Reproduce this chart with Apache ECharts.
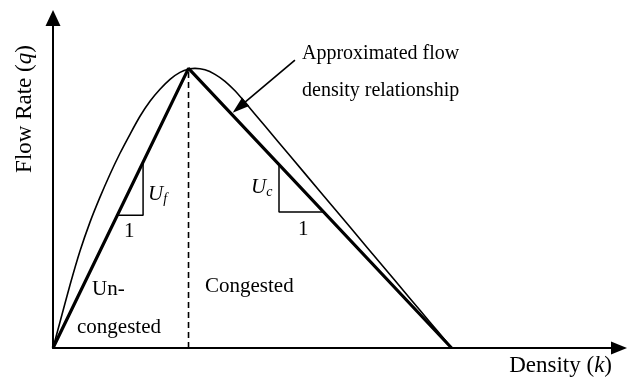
<!DOCTYPE html>
<html>
<head>
<meta charset="utf-8">
<script src="https://cdn.jsdelivr.net/npm/echarts@6/dist/echarts.min.js"></script>
<style>
html,body{margin:0;padding:0;background:#fff;}
#chart{width:629px;height:380px;}
</style>
</head>
<body>
<div id="chart"></div>
<script>
// Flow-density curve (thin) (density k, flow q)
const curveK = [0, 1.756, 4.265, 6.774, 9.283, 11.791, 14.3, 16.809, 19.318, 21.827, 24.335, 26.844, 29.353, 31.862, 34.37, 35.625, 38.134, 40.642, 43.151, 45.66, 48.169, 53.186, 59.458, 66.985, 74.511, 82.037, 89.564, 94.581, 98.344, 100];
const curveQ = [0, 9.286, 22.5, 34.643, 45.0, 53.929, 62.143, 69.643, 76.429, 82.857, 88.214, 92.5, 96.071, 98.571, 99.821, 100, 99.464, 97.857, 95.357, 91.964, 87.857, 79.36, 68.73, 55.98, 43.23, 30.48, 17.73, 9.23, 2.86, 0];
// Triangular approximation
const triK = [0, 34, 100];
const triQ = [0, 100, 0];
// Critical density divider
const divK = [34, 34];
const divQ = [0, 100];
// Slope triangles
const ufK = [16.15, 22.6, 22.6];
const ufQ = [47.5, 47.5, 66.5];
const ucK = [56.7, 56.7, 67.9];
const ucQ = [65.6, 48.6, 48.6];
// Annotation arrow (from label to curve)
const arrowK = [60.7, 46.7];
const arrowQ = [102.9, 86.1];

const zip = (a, b) => a.map((v, i) => [v, b[i]]);
const serif = '"Liberation Serif", "Times New Roman", serif';

const chart = echarts.init(document.getElementById('chart'), null, {renderer: 'canvas'});
const option = {
  animation: false,
  backgroundColor: '#fff',
  grid: {left: 53, right: 10, top: 18, bottom: 32, containLabel: false, outerBoundsMode: 'none'},
  xAxis: {
    type: 'value', min: 0, max: 142,
    axisLine: {show: true, onZero: false, symbol: ['none', 'triangle'], symbolSize: [13, 16], lineStyle: {color: '#000', width: 2}},
    axisTick: {show: false}, axisLabel: {show: false}, splitLine: {show: false},
    name: '{n|Density (}{i|k}{n|)}',
    nameLocation: 'end', nameGap: -7,
    nameTextStyle: {align: 'right', verticalAlign: 'top', padding: [6, 0, 0, 0],
      rich: {n: {fontFamily: serif, fontSize: 23, color: '#000'}, i: {fontFamily: serif, fontSize: 23, fontStyle: 'italic', color: '#000'}}}
  },
  yAxis: {
    type: 'value', min: 0, max: 118,
    axisLine: {show: true, onZero: false, symbol: ['none', 'triangle'], symbolSize: [15, 16], lineStyle: {color: '#000', width: 2}},
    axisTick: {show: false}, axisLabel: {show: false}, splitLine: {show: false},
    name: '{n|Flow Rate (}{i|q}{n|)}',
    nameLocation: 'middle', nameGap: 17, nameRotate: 90,
    nameTextStyle: {padding: [0, 0, 0, 148],
      rich: {n: {fontFamily: serif, fontSize: 23, color: '#000'}, i: {fontFamily: serif, fontSize: 23, fontStyle: 'italic', color: '#000'}}}
  },
  series: [
    {type: 'line', name: 'curve', data: zip(curveK, curveQ), smooth: 0.25, showSymbol: false,
      lineStyle: {color: '#000', width: 1.6}},
    {type: 'line', name: 'triangle', data: zip(triK, triQ), showSymbol: false,
      lineStyle: {color: '#000', width: 3.2}},
    {type: 'line', name: 'divider', data: zip(divK, divQ), showSymbol: false,
      lineStyle: {color: '#000', width: 1.6, type: [6, 4]}},
    {type: 'line', name: 'uf', data: zip(ufK, ufQ), showSymbol: false,
      lineStyle: {color: '#000', width: 1.5}},
    {type: 'line', name: 'uc', data: zip(ucK, ucQ), showSymbol: false,
      lineStyle: {color: '#000', width: 1.5}},
    {type: 'line', name: 'arrow', data: [], showSymbol: false,
      markLine: {silent: true, symbol: ['none', 'triangle'], symbolSize: [11, 17],
        label: {show: false},
        lineStyle: {color: '#000', width: 1.6, type: 'solid'},
        data: [[{coord: [arrowK[0], arrowQ[0]]}, {coord: [arrowK[1], arrowQ[1]]}]]}}
  ],
  graphic: [
    {type: 'text', left: 302, top: 44, style: {text: 'Approximated flow', font: '20px ' + serif, fill: '#000'}},
    {type: 'text', left: 302, top: 81, style: {text: 'density relationship', font: '20px ' + serif, fill: '#000'}},
    {type: 'text', left: 92, top: 279, style: {text: 'Un-', font: '21px ' + serif, fill: '#000'}},
    {type: 'text', left: 77, top: 317, style: {text: 'congested', font: '21px ' + serif, fill: '#000'}},
    {type: 'text', left: 205, top: 276, style: {text: 'Congested', font: '21px ' + serif, fill: '#000'}},
    {type: 'text', left: 148, top: 184, style: {text: '{u|U}{s|f}', rich: {u: {fontFamily: serif, fontSize: 21, fontStyle: 'italic', color: '#000'}, s: {fontFamily: serif, fontSize: 14, fontStyle: 'italic', color: '#000', verticalAlign: 'bottom', padding: [10, 0, 0, 0]}}}},
    {type: 'text', left: 124, top: 221, style: {text: '1', font: '21px ' + serif, fill: '#000'}},
    {type: 'text', left: 251, top: 177, style: {text: '{u|U}{s|c}', rich: {u: {fontFamily: serif, fontSize: 21, fontStyle: 'italic', color: '#000'}, s: {fontFamily: serif, fontSize: 14, fontStyle: 'italic', color: '#000', verticalAlign: 'bottom', padding: [10, 0, 0, 0]}}}},
    {type: 'text', left: 298, top: 219, style: {text: '1', font: '21px ' + serif, fill: '#000'}}
  ]
};
chart.setOption(option);
</script>
</body>
</html>
